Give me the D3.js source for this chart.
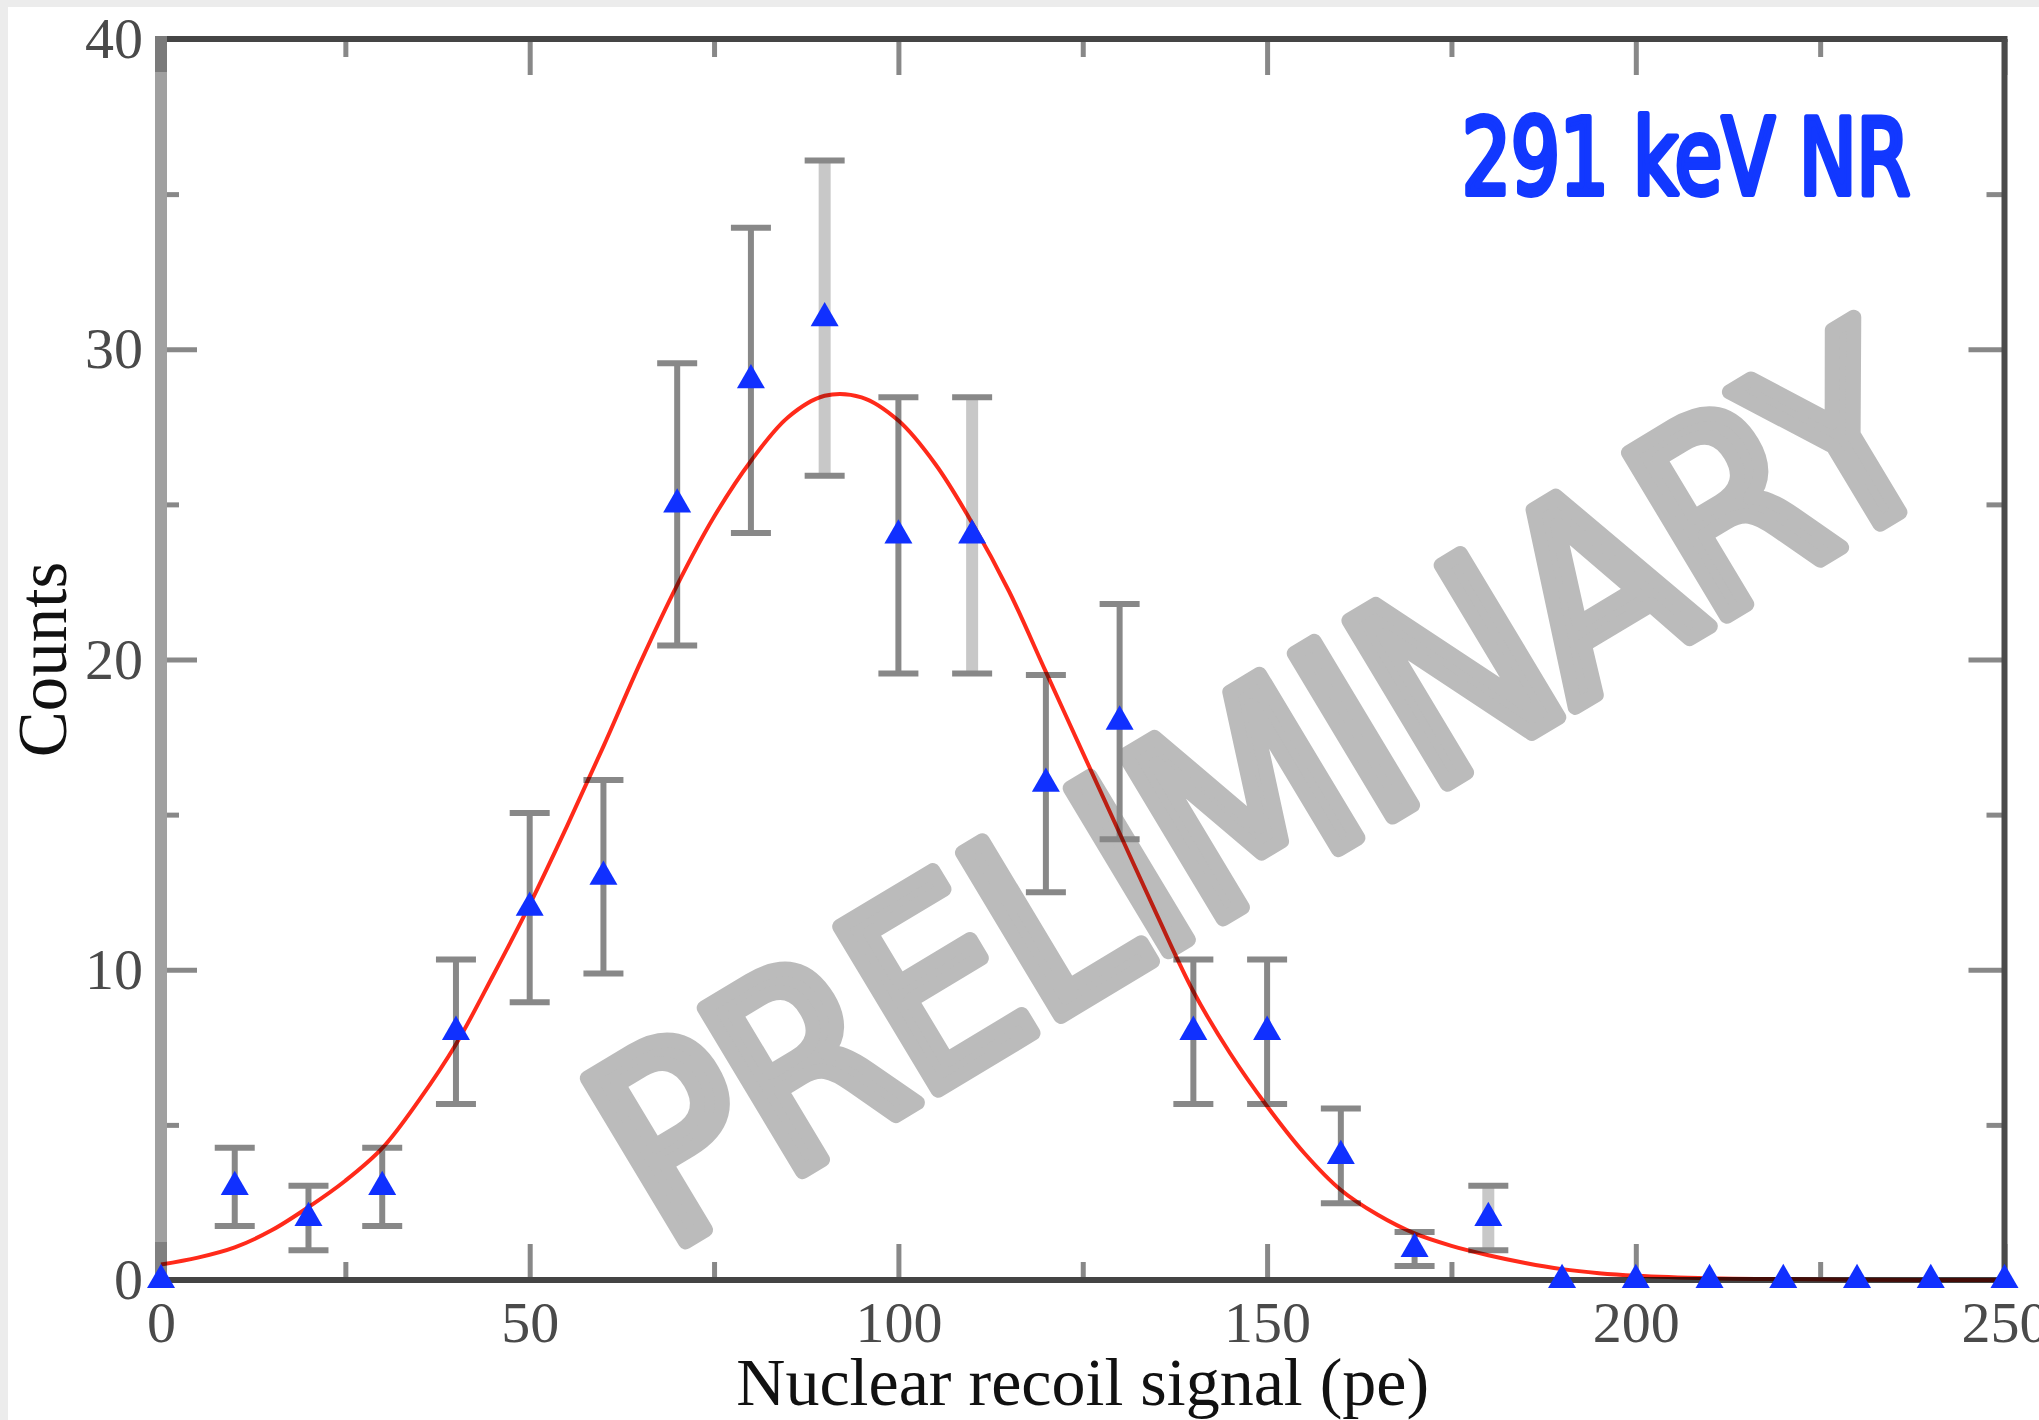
<!DOCTYPE html>
<html>
<head>
<meta charset="utf-8">
<script src="https://cdn.jsdelivr.net/npm/d3@7/dist/d3.min.js"></script>
<style>
  html, body { margin: 0; padding: 0; background: #fff; }
  svg { display: block; }
</style>
</head>
<body>
<div id="chart"></div>
<script>
// 291 keV NR – recoil signal histogram with fit, drawn with D3

// Histogram bins (pe) and counts
const signalPe = [0, 10, 20, 30, 40, 50, 60, 70, 80, 90, 100, 110, 120, 130, 140, 150, 160, 170, 180, 190, 200, 210, 220, 230, 240, 250];
const counts   = [0, 3, 2, 3, 8, 12, 13, 25, 29, 31, 24, 24, 16, 18, 8, 8, 4, 1, 2, 0, 0, 0, 0, 0, 0, 0];
const countErr = [0, 1.26, 1.04, 1.26, 2.33, 3.05, 3.12, 4.55, 4.92, 5.08, 4.45, 4.45, 3.5, 3.79, 2.33, 2.33, 1.53, 0.55, 1.04, 0, 0, 0, 0, 0, 0, 0];

// Fit curve
const fitPe     = [0, 5, 10, 15, 20, 25, 30, 35, 40, 45, 50, 55, 60, 65, 70, 75, 80, 85, 90, 95, 100, 105, 110, 115, 120, 125, 130, 135, 140, 145, 150, 155, 160, 165, 170, 175, 180, 185, 190, 195, 200, 210, 220, 230, 240, 250];
const fitCounts = [0.5, 0.72, 1.05, 1.6, 2.35, 3.2, 4.25, 5.8, 7.6, 9.8, 12.1, 14.6, 17.2, 19.9, 22.4, 24.6, 26.4, 27.8, 28.5, 28.45, 27.7, 26.3, 24.4, 22.2, 19.6, 17.0, 14.4, 11.8, 9.3, 7.3, 5.6, 4.1, 2.9, 2.1, 1.5, 1.1, 0.8, 0.55, 0.35, 0.22, 0.14, 0.06, 0.03, 0.01, 0, 0];

// Axis ticks
const xTicks = [0, 50, 100, 150, 200, 250];
const xMinorTicks = [25, 75, 125, 175, 225];
const yTicks = [0, 10, 20, 30, 40];
const yMinorTicks = [5, 15, 25, 35];

// Texts
const xTitle = 'Nuclear recoil signal (pe)';
const yTitle = 'Counts';
const energyLabel = '291 keV NR';
const watermarkText = 'PRELIMINARY';

// bins whose error bar came out pale in the original rendering
const paleBars = [90, 110, 180];

const W = 2039, H = 1420;
const plot = { left: 161, right: 2004.5, top: 39, bottom: 1280 };

const x = d3.scaleLinear().domain([0, 250]).range([plot.left, plot.right]);
const y = d3.scaleLinear().domain([0, 40]).range([plot.bottom, plot.top]);

const svg = d3.select('#chart').append('svg')
    .attr('width', W)
    .attr('height', H);

svg.append('rect').attr('width', W).attr('height', H).attr('fill', '#fff');
// slide edges
svg.append('rect').attr('x', 0).attr('y', 0).attr('width', 8).attr('height', H).attr('fill', '#ececec');
svg.append('rect').attr('x', 0).attr('y', 0).attr('width', W).attr('height', 7).attr('fill', '#ececec');

// Watermark
svg.append('text')
    .attr('transform', 'translate(1262,790) rotate(-31)')
    .attr('text-anchor', 'middle')
    .attr('dominant-baseline', 'central')
    .attr('font-family', '"Liberation Sans Narrow", "DejaVu Sans Condensed", sans-serif')
    .attr('font-size', 262)
    .attr('fill', '#bbbbbb')
    .attr('stroke', '#bbbbbb')
    .attr('stroke-width', 15)
    .attr('stroke-linejoin', 'round')
    .attr('stroke-linecap', 'round')
    .attr('textLength', 1500)
    .attr('lengthAdjust', 'spacing')
    .text(watermarkText);

// Ticks
function styleAxis(g) {
    g.select('.domain').remove();
    g.selectAll('.tick line').attr('stroke', '#888').attr('stroke-width', 5);
    g.selectAll('.tick text')
        .attr('font-family', '"Liberation Serif", "Times New Roman", serif')
        .attr('font-size', 58)
        .attr('fill', '#4a4a4a');
}

svg.append('g').attr('transform', `translate(0,${plot.bottom})`)
    .call(d3.axisBottom(x).tickValues(xTicks).tickSize(-36).tickPadding(21).tickFormat(d3.format('d')))
    .call(styleAxis);
svg.append('g').attr('transform', `translate(0,${plot.bottom})`)
    .call(d3.axisBottom(x).tickValues(xMinorTicks).tickSize(-18).tickFormat(''))
    .call(styleAxis);
svg.append('g').attr('transform', `translate(0,${plot.top})`)
    .call(d3.axisTop(x).tickValues(xTicks).tickSize(-36).tickFormat(''))
    .call(styleAxis);
svg.append('g').attr('transform', `translate(0,${plot.top})`)
    .call(d3.axisTop(x).tickValues(xMinorTicks).tickSize(-18).tickFormat(''))
    .call(styleAxis);
svg.append('g').attr('transform', `translate(${plot.left},0)`)
    .call(d3.axisLeft(y).tickValues(yTicks).tickSize(-36).tickPadding(18).tickFormat(d3.format('d')))
    .call(styleAxis);
svg.append('g').attr('transform', `translate(${plot.left},0)`)
    .call(d3.axisLeft(y).tickValues(yMinorTicks).tickSize(-18).tickFormat(''))
    .call(styleAxis);
svg.append('g').attr('transform', `translate(${plot.right},0)`)
    .call(d3.axisRight(y).tickValues(yTicks).tickSize(-36).tickFormat(''))
    .call(styleAxis);
svg.append('g').attr('transform', `translate(${plot.right},0)`)
    .call(d3.axisRight(y).tickValues(yMinorTicks).tickSize(-18).tickFormat(''))
    .call(styleAxis);

// Frame
const frame = svg.append('g');
frame.append('line').attr('x1', plot.left).attr('x2', plot.right + 3).attr('y1', plot.top).attr('y2', plot.top)
    .attr('stroke', '#454545').attr('stroke-width', 6);
frame.append('line').attr('x1', plot.right).attr('x2', plot.right).attr('y1', plot.top).attr('y2', plot.bottom)
    .attr('stroke', '#4a4a4a').attr('stroke-width', 6);
frame.append('line').attr('x1', plot.left).attr('x2', plot.right + 3).attr('y1', plot.bottom).attr('y2', plot.bottom)
    .attr('stroke', '#444').attr('stroke-width', 6);
frame.append('line').attr('x1', plot.left).attr('x2', plot.left).attr('y1', plot.top - 3).attr('y2', plot.bottom)
    .attr('stroke', '#a0a0a0').attr('stroke-width', 12);
frame.append('line').attr('x1', plot.left).attr('x2', plot.left).attr('y1', plot.top - 3).attr('y2', plot.top + 33)
    .attr('stroke', '#7a7a7a').attr('stroke-width', 12);
frame.append('line').attr('x1', plot.left).attr('x2', plot.left).attr('y1', plot.bottom - 38).attr('y2', plot.bottom)
    .attr('stroke', '#808080').attr('stroke-width', 12);

// Axis titles
svg.append('text')
    .attr('x', (plot.left + plot.right) / 2)
    .attr('y', 1405)
    .attr('text-anchor', 'middle')
    .attr('font-family', '"Liberation Serif", "Times New Roman", serif')
    .attr('font-size', 68)
    .attr('fill', '#111')
    .text(xTitle);

svg.append('text')
    .attr('transform', `translate(66,${(plot.top + plot.bottom) / 2}) rotate(-90)`)
    .attr('text-anchor', 'middle')
    .attr('font-family', '"Liberation Serif", "Times New Roman", serif')
    .attr('font-size', 69)
    .attr('fill', '#111')
    .text(yTitle);

// Error bars
const points = signalPe.map((pe, i) => ({ pe, n: counts[i], err: countErr[i] }));
const bars = svg.append('g').selectAll('g')
    .data(points.filter(d => d.err > 0))
    .join('g');

bars.append('line')
    .attr('x1', d => x(d.pe)).attr('x2', d => x(d.pe))
    .attr('y1', d => y(d.n - d.err)).attr('y2', d => y(d.n + d.err))
    .attr('stroke', d => paleBars.includes(d.pe) ? '#c8c8c8' : '#888')
    .attr('stroke-width', d => paleBars.includes(d.pe) ? 12 : 6);

bars.selectAll('line.cap')
    .data(d => [[d.pe, d.n - d.err], [d.pe, d.n + d.err]])
    .join('line')
    .attr('class', 'cap')
    .attr('x1', d => x(d[0]) - 20).attr('x2', d => x(d[0]) + 20)
    .attr('y1', d => y(d[1])).attr('y2', d => y(d[1]))
    .attr('stroke', '#888')
    .attr('stroke-width', 6);

// Fit curve
const fitLine = d3.line()
    .x((d, i) => x(fitPe[i]))
    .y(d => y(d))
    .curve(d3.curveCatmullRom.alpha(0.5));

svg.append('path')
    .datum(fitCounts)
    .attr('d', fitLine)
    .attr('fill', 'none')
    .attr('stroke', '#ff2a1a')
    .attr('stroke-width', 4)
    .style('mix-blend-mode', 'multiply');

// Data markers
svg.append('g').selectAll('path')
    .data(points)
    .join('path')
    .attr('transform', d => `translate(${x(d.pe)},${y(d.n)})`)
    .attr('d', d3.symbol(d3.symbolTriangle, 340))
    .attr('fill', '#1030ff');

// Energy label
svg.append('text')
    .attr('x', 1462)
    .attr('y', 194)
    .attr('font-family', '"Liberation Sans Narrow", "DejaVu Sans Condensed", sans-serif')
    .attr('font-size', 106)
    .attr('fill', '#1238ff')
    .attr('stroke', '#1238ff')
    .attr('stroke-width', 6)
    .attr('stroke-linejoin', 'round')
    .attr('stroke-linecap', 'round')
    .attr('textLength', 448)
    .attr('lengthAdjust', 'spacingAndGlyphs')
    .text(energyLabel);
</script>
</body>
</html>
